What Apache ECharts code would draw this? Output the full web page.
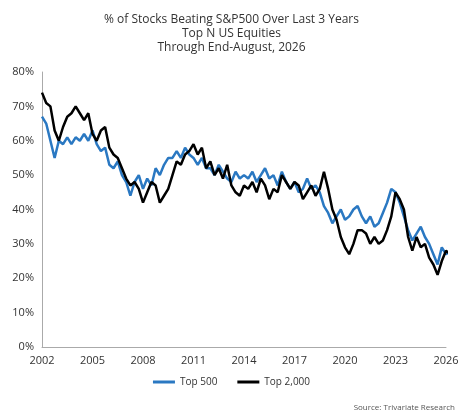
<!DOCTYPE html>
<html>
<head>
<meta charset="utf-8">
<script src="https://cdn.jsdelivr.net/npm/echarts@6/dist/echarts.min.js"></script>
<style>html,body{margin:0;padding:0;background:#fff}#chart{width:463px;height:418px}</style>
</head>
<body>
<div id="chart"></div>
<script>
// quarterly readings, starting 2002.0
const startYear = 2002;
const top500 = [67,65,60,55, 60,59,61,59, 61,60,62,60, 63,59,57,58, 53,52,54,50, 48,44,48,50,
  46,49,47,52, 50,53,55,55, 57,55,58,56, 55,53,55,52, 52,50,53,51, 49,48,51,49, 50,49,51,48,
  50,52,49,50, 47,51,48,46, 48,45,46,49, 46,47,45,41, 39,36,38,40, 37,38,40,41, 38,36,38,35,
  36,39,42,46, 45,42,38,34, 31,33,35,32, 30,27,24,29, 27,28,27];
const top2000 = [74,71,70,63, 60,64,67,68, 70,68,66,68, 62,60,63,64, 58,56,55,52, 49,47,48,46,
  42,45,48,47, 42,44,46,50, 54,53,56,57, 59,56,58,52, 54,50,52,49, 53,47,45,44, 47,46,48,45,
  49,47,43,46, 45,50,48,46, 48,47,43,45, 47,44,46,51, 46,40,37,32, 29,27,30,34, 34,33,30,32,
  30,31,34,38, 45,43,40,32, 28,32,29,30, 26,24,21,25, 28,27,28];

const toPairs = arr => arr.map((v, i) => [startYear + i * 0.25, v]);
const font = '"Open Sans", sans-serif';

const chart = echarts.init(document.getElementById('chart'));
chart.setOption({
  animation: false,
  title: {
    text: '% of Stocks Beating S&P500 Over Last 3 Years\nTop N US Equities\nThrough End-August, 2026',
    left: 'center', top: 8,
    textStyle: { fontFamily: font, fontSize: 12, fontWeight: 'normal', color: '#333', lineHeight: 14 }
  },
  grid: { left: 42, right: 17, top: 72, bottom: 71 },
  xAxis: {
    type: 'value', min: 2002, max: 2026, interval: 3,
    axisLine: { lineStyle: { color: '#aaa' } }, axisTick: { show: false }, splitLine: { show: false },
    axisLabel: { fontFamily: font, fontSize: 11, color: '#333', formatter: v => String(v) }
  },
  yAxis: {
    type: 'value', min: 0, max: 80, interval: 10,
    axisLine: { show: true, lineStyle: { color: '#aaa' } }, axisTick: { show: false }, splitLine: { show: false },
    axisLabel: { fontFamily: font, fontSize: 11, color: '#333', formatter: '{value}%' }
  },
  legend: {
    bottom: 26, itemWidth: 22, itemHeight: 3, itemGap: 20,
    textStyle: { fontFamily: font, fontSize: 10, color: '#333' },
    data: [{ name: 'Top 500', icon: 'rect' }, { name: 'Top 2,000', icon: 'rect' }]
  },
  graphic: [{ type: 'text', right: 8, bottom: 6,
    style: { text: 'Source: Trivariate Research', fontFamily: font, fontSize: 8, fill: '#555' } }],
  series: [
    { name: 'Top 500', type: 'line', data: toPairs(top500), showSymbol: false, color: '#2a78c2',
      lineStyle: { width: 2.5 } },
    { name: 'Top 2,000', type: 'line', data: toPairs(top2000), showSymbol: false, color: '#000',
      lineStyle: { width: 2.5 } }
  ]
});
</script>
</body>
</html>
